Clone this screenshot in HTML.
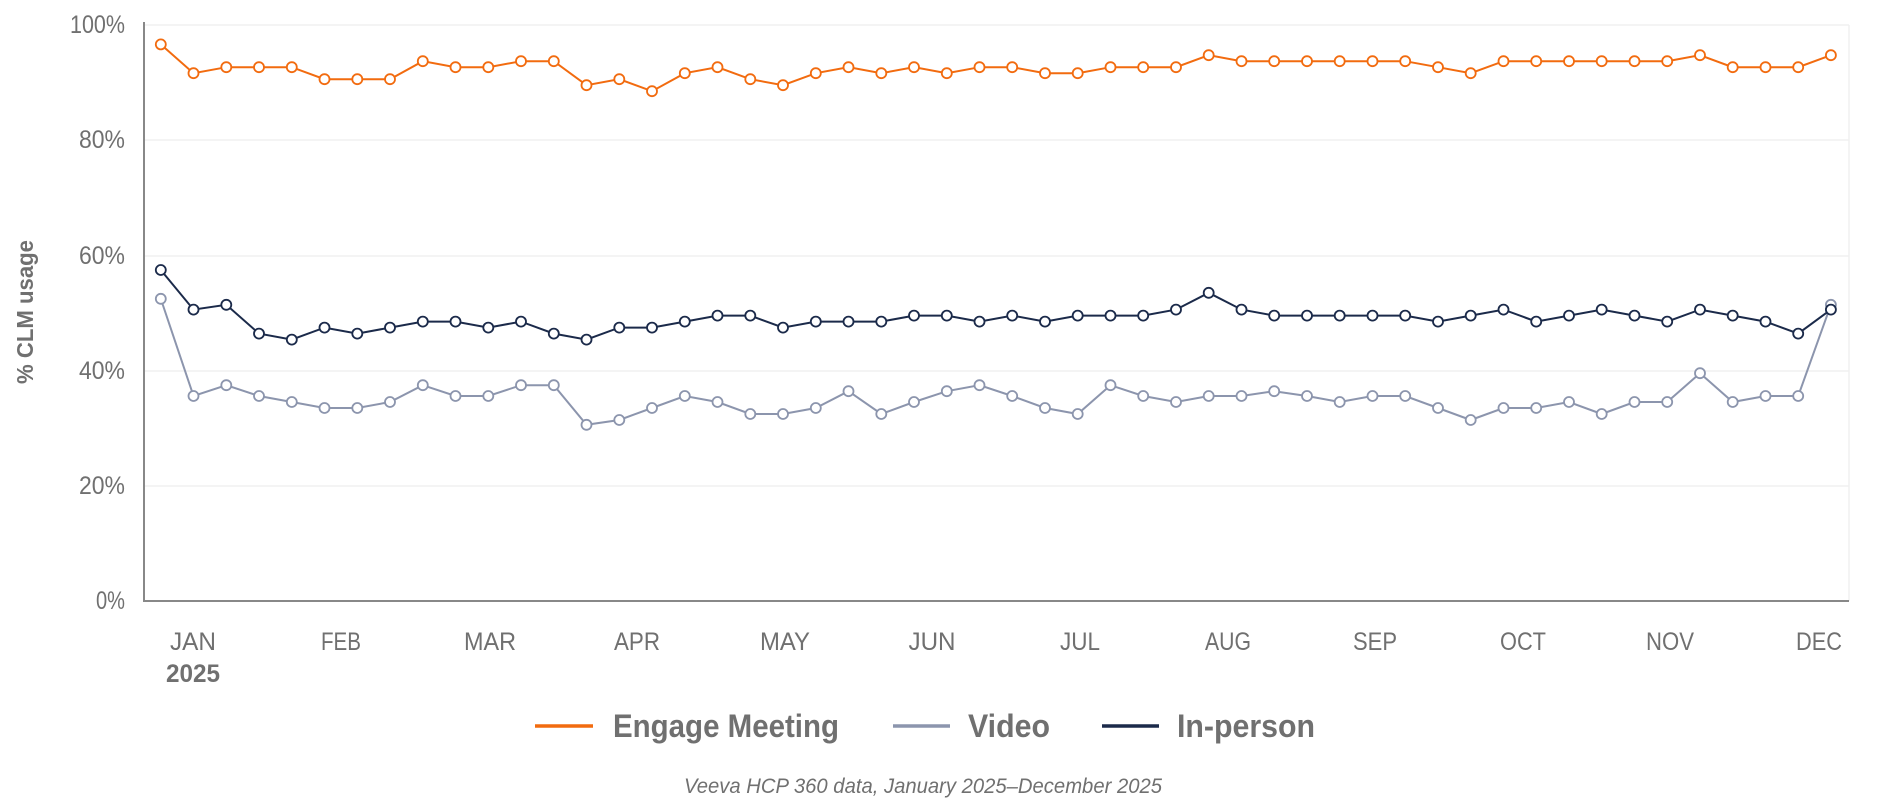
<!DOCTYPE html>
<html><head><meta charset="utf-8"><style>
html,body{margin:0;padding:0;background:#fff;}
svg{display:block;font-family:"Liberation Sans Narrow","Liberation Sans",sans-serif;}
</style></head><body>
<svg id="c" width="1880" height="805" viewBox="0 0 1880 805" xmlns="http://www.w3.org/2000/svg">
<g stroke="#f0f0f0" stroke-width="1.5">
<line x1="145" y1="25" x2="1849" y2="25"/>
<line x1="145" y1="140" x2="1849" y2="140"/>
<line x1="145" y1="256" x2="1849" y2="256"/>
<line x1="145" y1="371" x2="1849" y2="371"/>
<line x1="145" y1="486" x2="1849" y2="486"/>
<line x1="1849" y1="25" x2="1849" y2="601"/>
</g>
<line x1="144" y1="22" x2="144" y2="602" stroke="#888" stroke-width="2"/>
<line x1="143" y1="601" x2="1849" y2="601" stroke="#888" stroke-width="2"/>
<g fill="#707070" font-size="25" lengthAdjust="spacingAndGlyphs">
<text x="70" y="33" textLength="55" lengthAdjust="spacingAndGlyphs">100%</text>
<text x="79" y="148" textLength="46" lengthAdjust="spacingAndGlyphs">80%</text>
<text x="79" y="264" textLength="46" lengthAdjust="spacingAndGlyphs">60%</text>
<text x="79" y="379" textLength="46" lengthAdjust="spacingAndGlyphs">40%</text>
<text x="79" y="494" textLength="46" lengthAdjust="spacingAndGlyphs">20%</text>
<text x="96" y="609" textLength="29" lengthAdjust="spacingAndGlyphs">0%</text>
</g>
<text transform="translate(33,312) rotate(-90)" fill="#707070" font-size="23" font-weight="bold" text-anchor="middle" textLength="144" lengthAdjust="spacingAndGlyphs">% CLM usage</text>
<g fill="#707070" font-size="25" text-anchor="middle">
<text x="193" y="650" textLength="46" lengthAdjust="spacingAndGlyphs">JAN</text>
<text x="341" y="650" textLength="40" lengthAdjust="spacingAndGlyphs">FEB</text>
<text x="490" y="650" textLength="52" lengthAdjust="spacingAndGlyphs">MAR</text>
<text x="637" y="650" textLength="46" lengthAdjust="spacingAndGlyphs">APR</text>
<text x="785" y="650" textLength="50" lengthAdjust="spacingAndGlyphs">MAY</text>
<text x="932" y="650" textLength="47" lengthAdjust="spacingAndGlyphs">JUN</text>
<text x="1080" y="650" textLength="40" lengthAdjust="spacingAndGlyphs">JUL</text>
<text x="1228" y="650" textLength="46" lengthAdjust="spacingAndGlyphs">AUG</text>
<text x="1375" y="650" textLength="44" lengthAdjust="spacingAndGlyphs">SEP</text>
<text x="1523" y="650" textLength="46" lengthAdjust="spacingAndGlyphs">OCT</text>
<text x="1670" y="650" textLength="48" lengthAdjust="spacingAndGlyphs">NOV</text>
<text x="1819" y="650" textLength="46" lengthAdjust="spacingAndGlyphs">DEC</text>
<text x="193" y="682" font-weight="bold" textLength="54" lengthAdjust="spacingAndGlyphs">2025</text>
</g>
<g id="series"></g>
<g font-size="32" font-weight="bold" fill="#707070">
<line x1="535" y1="726" x2="593" y2="726" stroke="#f26b0f" stroke-width="3.5"/>
<text x="613" y="737" textLength="226" lengthAdjust="spacingAndGlyphs">Engage Meeting</text>
<line x1="893" y1="726" x2="950" y2="726" stroke="#8c95ad" stroke-width="3.5"/>
<text x="968" y="737" textLength="82" lengthAdjust="spacingAndGlyphs">Video</text>
<line x1="1102" y1="726" x2="1159" y2="726" stroke="#1b2a4a" stroke-width="3.5"/>
<text x="1177" y="737" textLength="138" lengthAdjust="spacingAndGlyphs">In-person</text>
</g>
<text x="684" y="793" font-size="21" font-style="italic" fill="#707070" textLength="478" lengthAdjust="spacingAndGlyphs">Veeva HCP 360 data, January 2025–December 2025</text>
</svg>
<script>
var E=[37,61,56,56,56,66,66,66,51,56,56,51,51,71,66,76,61,56,66,71,61,56,61,56,61,56,56,61,61,56,56,56,46,51,51,51,51,51,51,56,61,51,51,51,51,51,51,46,56,56,56,46];
var P=[225,258,254,278,283,273,278,273,268,268,273,268,278,283,273,273,268,263,263,273,268,268,268,263,263,268,263,268,263,263,263,258,244,258,263,263,263,263,263,268,263,258,268,263,258,263,268,258,263,268,278,258];
var V=[249,330,321,330,335,340,340,335,321,330,330,321,321,354,350,340,330,335,345,345,340,326,345,335,326,321,330,340,345,321,330,335,330,330,326,330,335,330,330,340,350,340,340,335,345,335,335,311,335,330,330,254];
var g=document.getElementById('series'),ns='http://www.w3.org/2000/svg';
function draw(d,col){var pts=d.map(function(y,i){return [((134+i*27.29)*1.2).toFixed(1),(y*1.2).toFixed(1)];});
var pl=document.createElementNS(ns,'polyline');pl.setAttribute('points',pts.map(function(p){return p.join(',')}).join(' '));
pl.setAttribute('fill','none');pl.setAttribute('stroke',col);pl.setAttribute('stroke-width','2');g.appendChild(pl);
pts.forEach(function(p){var c=document.createElementNS(ns,'circle');c.setAttribute('cx',p[0]);c.setAttribute('cy',p[1]);c.setAttribute('r','5');
c.setAttribute('fill','#fff');c.setAttribute('stroke',col);c.setAttribute('stroke-width','1.8');g.appendChild(c);});}
draw(V,'#8c95ad');draw(P,'#1b2a4a');draw(E,'#f26b0f');
</script>
</body></html>
